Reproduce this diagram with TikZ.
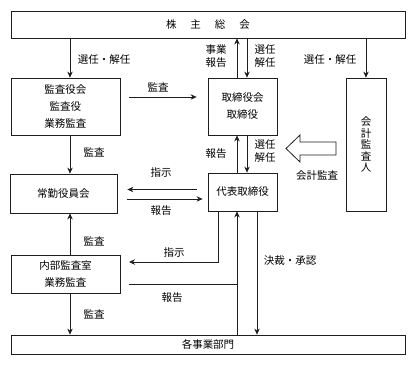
\documentclass[tikz,border=0pt]{standalone}
\usepackage{fontspec}
\setmainfont{Noto Sans CJK JP}
\usepackage{tikz}
\usetikzlibrary{arrows.meta,calc}
\definecolor{linegray}{RGB}{30, 30, 30}

\begin{document}
\begin{tikzpicture}[x=1pt, y=-1pt]
    % Styles
    \tikzstyle{orgbox} = [draw=linegray, line width=0.8pt, inner sep=0pt, align=center, font=\fontsize{10.5}{17}\selectfont]
    \tikzstyle{lbl} = [inner sep=0pt, align=center, font=\fontsize{10.5}{13}\selectfont]
    \tikzstyle{arrow} = [draw=linegray, line width=0.8pt, -{Stealth[length=6pt,width=5.5pt]}]
    \tikzstyle{plainline} = [draw=linegray, line width=0.8pt]

    \useasboundingbox (0,0) rectangle (416,365);

    % Boxes
    \node[orgbox, minimum width=394, minimum height=27] (gm) at (208, 24.5) {株\hspace{14pt}主\hspace{14pt}総\hspace{14pt}会};
    \node[orgbox, minimum width=109, minimum height=57] (kansa) at (65.5, 106.5) {監査役会\\監査役\\業務監査};
    \node[orgbox, minimum width=69, minimum height=57] (board) at (242.5, 106.5) {取締役会\\取締役};
    \node[orgbox, minimum width=40, minimum height=133, font=\fontsize{10.5}{11.5}\selectfont] (auditor) at (366, 144.5) {会\\計\\監\\査\\人};
    \node[orgbox, minimum width=107, minimum height=39] (jokin) at (63.5, 193.5) {常勤役員会};
    \node[orgbox, minimum width=69, minimum height=38] (ceo) at (242.5, 192) {代表取締役};
    \node[orgbox, minimum width=109, minimum height=38, font=\fontsize{10.5}{16.5}\selectfont] (naibu) at (65.5, 274) {内部監査室\\業務監査};
    \node[orgbox, minimum width=394, minimum height=19] (depts) at (208, 344.5) {各事業部門};

    % Labels
    \node[lbl] (l_sennin1) at (104, 60) {選任・解任};
    \node[lbl] (l_jigyo) at (216, 56) {事業\\報告};
    \node[lbl] (l_sennin2) at (265, 56) {選任\\解任};
    \node[lbl] (l_sennin3) at (330, 60) {選任・解任};
    \node[lbl] (l_kansa1) at (158, 87) {監査};
    \node[lbl] (l_kansa2) at (94, 152) {監査};
    \node[lbl] (l_houkoku1) at (216, 154) {報告};
    \node[lbl] (l_sennin4) at (265, 151.5) {選任\\解任};
    \node[lbl] (l_kaikei) at (317, 176) {会計監査};
    \node[lbl] (l_shiji1) at (161, 173) {指示};
    \node[lbl] (l_houkoku2) at (161, 211) {報告};
    \node[lbl] (l_kansa3) at (94, 241) {監査};
    \node[lbl] (l_shiji2) at (174, 253) {指示};
    \node[lbl] (l_kessai) at (290, 261) {決裁・承認};
    \node[lbl] (l_houkoku3) at (172, 298) {報告};
    \node[lbl] (l_kansa4) at (94, 314) {監査};

    % Hollow arrow (accounting audit)
    \draw[plainline, fill=white] (336,142) -- (300,142) -- (300,135) -- (286,148.5) -- (300,162) -- (300,155) -- (336,155) -- cycle;

    % Connectors
    \coordinate (shiji_end) at (129, 262);
    \coordinate (report_start) at (129, 284);
    \coordinate (report_bus) at (237, 284);

    \draw[arrow] (gm.south -| 70,0) -- (kansa.north -| 70,0);
    \draw[arrow] (board.north -| 237,0) -- (gm.south -| 237,0);
    \draw[arrow] (gm.south -| 247,0) -- (board.north -| 247,0);
    \draw[arrow] (gm.south -| auditor.north) -- (auditor.north);
    \draw[arrow, shorten <=9pt, shorten >=11pt] (kansa.east |- 0,97) -- (board.west |- 0,97);

    \draw[arrow] (kansa.south -| 70,0) -- (jokin.north -| 70,0);
    \draw[arrow] (ceo.north -| 237,0) -- (board.south -| 237,0);
    \draw[arrow] (board.south -| 247,0) -- (ceo.north -| 247,0);
    \draw[arrow, shorten <=11pt, shorten >=10pt] (ceo.west |- 0,189.5) -- (jokin.east |- 0,189.5);
    \draw[arrow, shorten <=10pt, shorten >=5pt] (jokin.east |- 0,199) -- (ceo.west |- 0,199);

    \draw[arrow] (naibu.north -| 70,0) -- (jokin.south -| 70,0);
    \draw[arrow] (ceo.south -| 218,0) |- (shiji_end);
    \draw[plainline] (report_start) -- (report_bus);
    \draw[arrow] (depts.north -| 237,0) -- (ceo.south -| 237,0);
    \draw[arrow] (ceo.south -| 257,0) -- (depts.north -| 257,0);
    \draw[arrow] (naibu.south -| 70,0) -- (depts.north -| 70,0);
\end{tikzpicture}
\end{document}
